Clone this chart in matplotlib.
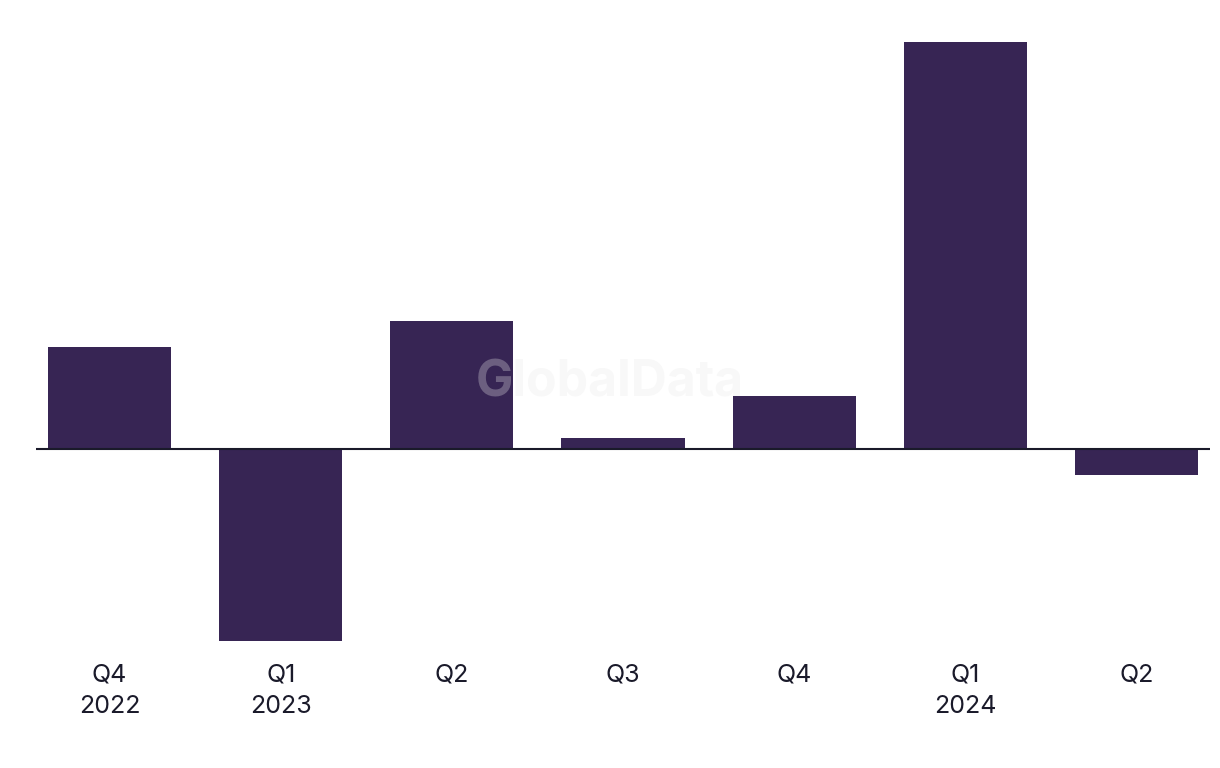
import matplotlib
matplotlib.use("Agg")
import matplotlib.pyplot as plt

categories = ["Q4\n2022", "Q1\n2023", "Q2", "Q3", "Q4", "Q1\n2024", "Q2"]
values = [102, -192, 128, 11, 53, 407, -26]

bar_color = "#372554"
plt.rcParams['font.family'] = ['Inter', 'DejaVu Sans']

fig = plt.figure(figsize=(12.2, 7.68), dpi=100)
ax = fig.add_axes([36/1220, (768-645)/768, (1210-36)/1220, (645-30)/768])
x = list(range(len(categories)))
ax.bar(x, values, width=0.72, color=bar_color, zorder=2)
ax.axhline(0, color="#1a1a2a", lw=1.5, zorder=3)
ax.set_xlim(-0.43, 6.43)
ax.set_ylim(-196, 419)
ax.set_xticks(x)
ax.set_xticklabels(categories, fontsize=18, color="#1a1a2a", linespacing=1.45)
ax.tick_params(axis="x", length=0, pad=13.5)
ax.set_yticks([])
for s in ax.spines.values():
    s.set_visible(False)

fig.text(610/1220, 1-383/768, "GlobalData", ha="center", va="center",
         fontsize=36, fontweight="bold", color="#e8e8e8", alpha=0.3, zorder=5)

fig.savefig("out.png", dpi=100, facecolor="white")
